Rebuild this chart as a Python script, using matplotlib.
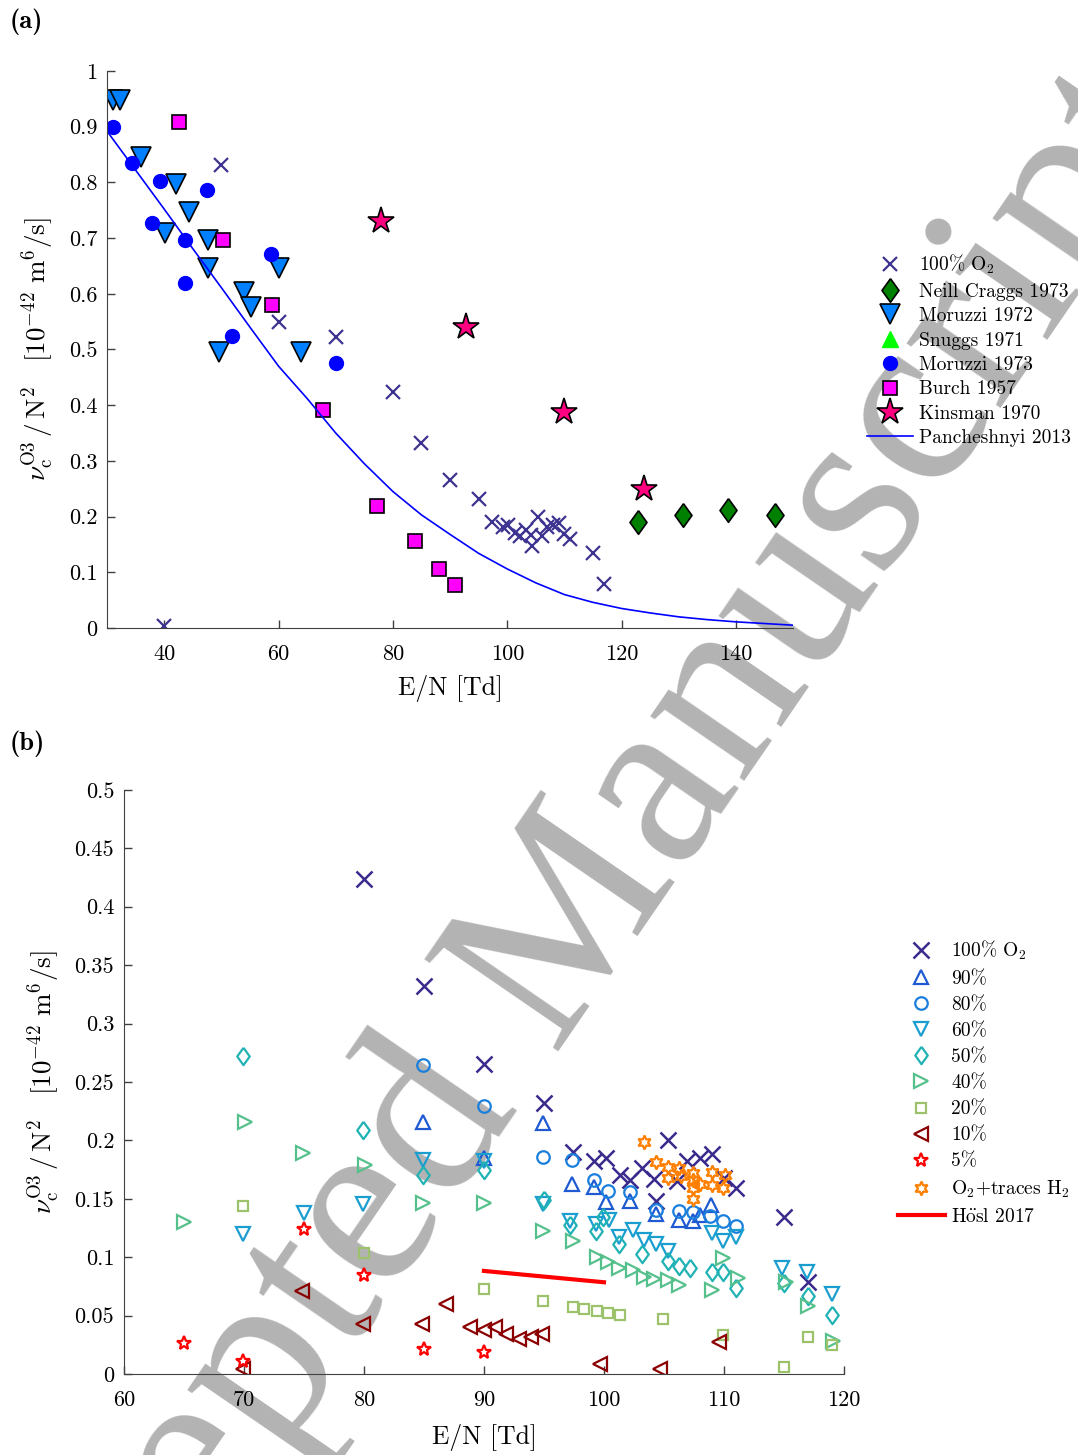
import numpy as np
import matplotlib
matplotlib.use('Agg')
import matplotlib.pyplot as plt
from matplotlib.ticker import FuncFormatter, FixedLocator

plt.rcParams['font.family'] = ['cmr10', 'DejaVu Serif']
plt.rcParams['mathtext.fontset'] = 'cm'
plt.rcParams['axes.formatter.use_mathtext'] = True

# ---- panel (a): literature data ----
o2_x = [40.0, 49.9, 60.1, 70.0, 80.0, 85.0, 90.0, 95.0, 97.4, 99.2, 100.2, 101.3, 102.2,
        103.2, 104.2, 104.3, 105.3, 106.1, 106.9, 108.0, 109.0, 110.0, 111.0, 115.0, 117.0]
o2_y = [0.004, 0.831, 0.550, 0.522, 0.424, 0.332, 0.265, 0.232, 0.190, 0.182, 0.185, 0.170, 0.166,
        0.176, 0.167, 0.148, 0.200, 0.165, 0.182, 0.185, 0.188, 0.168, 0.159, 0.134, 0.079]

craggs_x = [122.8, 130.8, 138.7, 146.9]
craggs_y = [0.191, 0.203, 0.211, 0.203]

moruzzi72_x = [31.1, 32.3, 36.0, 42.1, 44.4, 40.1, 47.7, 47.7, 54.0, 55.2, 60.1, 49.6, 63.9]
moruzzi72_y = [0.948, 0.948, 0.846, 0.798, 0.747, 0.709, 0.697, 0.646, 0.603, 0.577, 0.646, 0.496, 0.496]

snuggs_x = []
snuggs_y = []

moruzzi73_x = [31.1, 34.3, 39.2, 47.5, 37.9, 43.7, 43.7, 58.6, 51.8, 70.1]
moruzzi73_y = [0.900, 0.834, 0.803, 0.786, 0.728, 0.697, 0.620, 0.671, 0.524, 0.476]

burch_x = [42.6, 50.2, 58.8, 67.8, 77.3, 83.9, 88.0, 90.8]
burch_y = [0.908, 0.697, 0.580, 0.391, 0.219, 0.157, 0.106, 0.078]

kinsman_x = [77.9, 92.8, 109.9, 123.9]
kinsman_y = [0.731, 0.540, 0.387, 0.249]

panch_x = [30, 35, 40, 45, 50, 55, 60, 65, 70, 75, 80, 85, 90, 95, 100,
           105, 110, 115, 120, 125, 130, 135, 140, 145, 150]
panch_y = [0.892, 0.822, 0.752, 0.681, 0.611, 0.540, 0.470, 0.412, 0.350, 0.295, 0.245, 0.203,
           0.168, 0.134, 0.106, 0.081, 0.060, 0.046, 0.035, 0.027, 0.020, 0.015, 0.011, 0.008, 0.005]

# ---- panel (b): O2/N2 mixtures ----
p90_x = [84.9, 90.0, 94.9, 97.3, 99.2, 100.2, 102.2, 104.3, 106.25, 107.4, 108.0, 108.9]
p90_y = [0.216, 0.1846, 0.2146, 0.163, 0.160, 0.147, 0.148, 0.137, 0.132, 0.131, 0.136, 0.145]

p80_x = [84.9, 90.0, 94.9, 97.3, 99.2, 100.3, 102.2, 104.3, 106.25, 107.4, 108.8, 109.9, 111.0]
p80_y = [0.2646, 0.229, 0.186, 0.183, 0.166, 0.157, 0.156, 0.140, 0.1395, 0.139, 0.135, 0.131, 0.127]

p60_x = [69.9, 75.0, 79.9, 84.9, 90.0, 94.9, 97.2, 99.3, 100.4, 101.25, 102.4, 103.3, 104.3,
         105.3, 109.0, 109.9, 111.0, 114.8, 116.9, 119.0]
p60_y = [0.1196, 0.1375, 0.1453, 0.1832, 0.182, 0.1455, 0.1307, 0.128, 0.132, 0.1176, 0.123, 0.115,
         0.111, 0.105, 0.1207, 0.1135, 0.117, 0.0905, 0.0877, 0.0685]

p50_x = [69.9, 79.9, 84.9, 90.0, 95.0, 97.2, 99.3, 99.9, 101.25, 103.2, 105.3, 106.25, 107.2,
         109.0, 109.9, 111.0, 115.0, 117.0, 119.0]
p50_y = [0.2723, 0.2089, 0.1704, 0.1747, 0.149, 0.1276, 0.122, 0.134, 0.111, 0.1027, 0.097, 0.092,
         0.0905, 0.087, 0.087, 0.0733, 0.0776, 0.0668, 0.0505]

p40_x = [65.0, 70.1, 74.9, 80.1, 84.9, 90.0, 94.9, 97.4, 99.4, 100.3, 101.25, 102.4, 103.3, 104.2,
         105.3, 106.25, 109.0, 109.9, 111.2, 115.2, 117.0, 119.1]
p40_y = [0.130, 0.216, 0.189, 0.179, 0.1467, 0.1467, 0.122, 0.1135, 0.1005, 0.096, 0.0905, 0.089,
         0.0834, 0.081, 0.0805, 0.0762, 0.072, 0.099, 0.082, 0.079, 0.058, 0.028]

p20_x = [69.9, 80.0, 90.0, 94.9, 97.4, 98.3, 99.4, 100.3, 101.3, 104.9, 109.9, 115.0, 117.0, 119.0]
p20_y = [0.144, 0.1033, 0.0725, 0.0625, 0.0576, 0.0553, 0.0542, 0.0525, 0.0505, 0.0468, 0.0334,
         0.0063, 0.032, 0.0248]

p10_x = [69.9, 74.8, 79.9, 84.8, 86.8, 88.8, 90.0, 90.9, 91.8, 92.9, 93.9, 94.8, 99.7, 104.7, 109.6]
p10_y = [0.0043, 0.0713, 0.0425, 0.0425, 0.0597, 0.040, 0.0377, 0.040, 0.0342, 0.0297, 0.0314,
         0.034, 0.0086, 0.004, 0.0277]

p5_x = [65.0, 69.9, 75.0, 80.0, 85.0, 90.0]
p5_y = [0.0263, 0.0111, 0.124, 0.0848, 0.0211, 0.0186]

h2_x = [103.3, 104.3, 105.3, 105.3, 106.25, 106.4, 107.4, 107.4, 107.4, 107.4, 108.0, 109.0,
        109.0, 110.1, 109.9]
h2_y = [0.199, 0.1815, 0.177, 0.168, 0.176, 0.1695, 0.1718, 0.166, 0.159, 0.1498, 0.163, 0.1727,
        0.1618, 0.1704, 0.159]

hosl_x = [90, 100]
hosl_y = [0.0882, 0.0785]

ylab = r'$\nu_\mathrm{c}^\mathrm{O3}\,/\,\mathrm{N}^2\quad[10^{-42}\ \mathrm{m}^6/\mathrm{s}]$'
axcol = '#404040'
# tall diamond used by both panels
diamond = [(0, 1), (0.72, 0), (0, -1), (-0.72, 0), (0, 1)]


def style_axis(ax):
    for s in ['top', 'right']:
        ax.spines[s].set_visible(False)
    for s in ['left', 'bottom']:
        ax.spines[s].set_color(axcol)
    ax.tick_params(direction='in', length=6, width=1, colors=axcol, labelcolor='black',
                   labelsize=16)
    ax.tick_params(axis='y', pad=7)
    ax.tick_params(axis='x', pad=12)
    ax.yaxis.set_major_formatter(FuncFormatter(lambda v, p: '%g' % round(v, 3)))
    ax.xaxis.set_major_formatter(FuncFormatter(lambda v, p: '%g' % v))
    ax.set_facecolor('none')


fig = plt.figure(figsize=(10.78, 14.55), dpi=100)

# watermark behind the axes
fig.text(0.504, 0.334, 'Accepted Manuscript', fontsize=178, color='#b3b3b3',
         family='Liberation Serif', rotation=55.5, ha='center', va='center',
         rotation_mode='anchor', zorder=-5)

# ---- (a) ----
ax1 = fig.add_axes([0.0993, 0.5684, 0.6364, 0.3828])
style_axis(ax1)
ms_kw = dict(linestyle='none', markeredgecolor='black', markeredgewidth=1.2)
ax1.plot(o2_x, o2_y, 'x', color='#3d3390', ms=10, mew=1.6, label=r'100% O$_2$')
ax1.plot(craggs_x, craggs_y, marker=diamond, ms=17, markerfacecolor='#008000',
         label='Neill Craggs 1973', **ms_kw)
ax1.plot(moruzzi72_x, moruzzi72_y, marker='v', ms=14, markerfacecolor='#0080ff',
         label='Moruzzi 1972', **ms_kw)
ax1.plot(snuggs_x, snuggs_y, marker='^', ms=11, linestyle='none', color='#00ff00',
         label='Snuggs 1971')
ax1.plot(moruzzi73_x, moruzzi73_y, marker='o', ms=10, linestyle='none', color='#0000ff',
         label='Moruzzi 1973')
ax1.plot(burch_x, burch_y, marker='s', ms=10, markerfacecolor='#ff00ff',
         label='Burch 1957', **ms_kw)
ax1.plot(kinsman_x, kinsman_y, marker='*', ms=20, markerfacecolor='#ff0080',
         label='Kinsman 1970', **ms_kw)
ax1.plot(panch_x, panch_y, '-', color='#0000ff', lw=1.2, label='Pancheshnyi 2013')
ax1.set_xlim(30, 150)
ax1.set_ylim(0, 1)
ax1.xaxis.set_major_locator(FixedLocator([40, 60, 80, 100, 120, 140]))
ax1.yaxis.set_major_locator(FixedLocator(np.arange(0, 1.01, 0.1)))
ax1.set_xlabel('E/N [Td]', fontsize=18.5, labelpad=8)
ax1.set_ylabel(ylab, fontsize=19.5, labelpad=9)
ax1.legend(loc='upper left', bbox_to_anchor=(0.804, 0.826), bbox_transform=fig.transFigure,
           frameon=False, fontsize=14, borderpad=0, handlelength=2.4, handletextpad=0.3,
           labelspacing=0.33, borderaxespad=0)
fig.text(0.009, 0.994, '(a)', family='cmb10', fontsize=19, va='top')

# ---- (b) ----
ax2 = fig.add_axes([0.1150, 0.0557, 0.6679, 0.4014])
style_axis(ax2)
hk = dict(linestyle='none', markerfacecolor='none', markeredgewidth=1.6)
ax2.plot(o2_x, o2_y, 'x', color='#3a2a8c', ms=11, mew=1.8, label=r'100% O$_2$')
ax2.plot(p90_x, p90_y, marker='^', ms=10, markeredgecolor='#1f5ad2', label='90%', **hk)
ax2.plot(p80_x, p80_y, marker='o', ms=9, markeredgecolor='#1a7fdc', label='80%', **hk)
ax2.plot(p60_x, p60_y, marker='v', ms=10, markeredgecolor='#1a9ed0', label='60%', **hk)
ax2.plot(p50_x, p50_y, marker=diamond, ms=12.5, markeredgecolor='#20b2b4', label='50%', **hk)
ax2.plot(p40_x, p40_y, marker='>', ms=10, markeredgecolor='#55c08c', label='40%', **hk)
ax2.plot(p20_x, p20_y, marker='s', ms=7, markeredgecolor='#9dc26c', label='20%', **hk)
ax2.plot(p10_x, p10_y, marker='<', ms=10, markeredgecolor='#8b0000', label='10%', **hk)
ax2.plot(p5_x, p5_y, marker='*', ms=10, markeredgecolor='#ff0000', label='5%', **hk)
ax2.plot(h2_x, h2_y, marker=(6, 1, 0), ms=10, markeredgecolor='#ff8000',
         label=r'O$_2$+traces H$_2$', **hk)
ax2.plot(hosl_x, hosl_y, '-', color='#ff0000', lw=3, label=r'H$\mathrm{\ddot{o}}$sl 2017')
ax2.set_xlim(60, 120)
ax2.set_ylim(0, 0.5)
ax2.xaxis.set_major_locator(FixedLocator(np.arange(60, 121, 10)))
ax2.yaxis.set_major_locator(FixedLocator(np.arange(0, 0.501, 0.05)))
ax2.set_xlabel('E/N [Td]', fontsize=18.5, labelpad=10)
ax2.set_ylabel(ylab, fontsize=19.5, labelpad=9)
ax2.legend(loc='upper left', bbox_to_anchor=(0.833, 0.355), bbox_transform=fig.transFigure,
           frameon=False, fontsize=14, borderpad=0, handlelength=2.4, handletextpad=0.35,
           labelspacing=0.42, borderaxespad=0)
fig.text(0.009, 0.498, '(b)', family='cmb10', fontsize=19, va='top')

fig.savefig('out.png', dpi=100)
